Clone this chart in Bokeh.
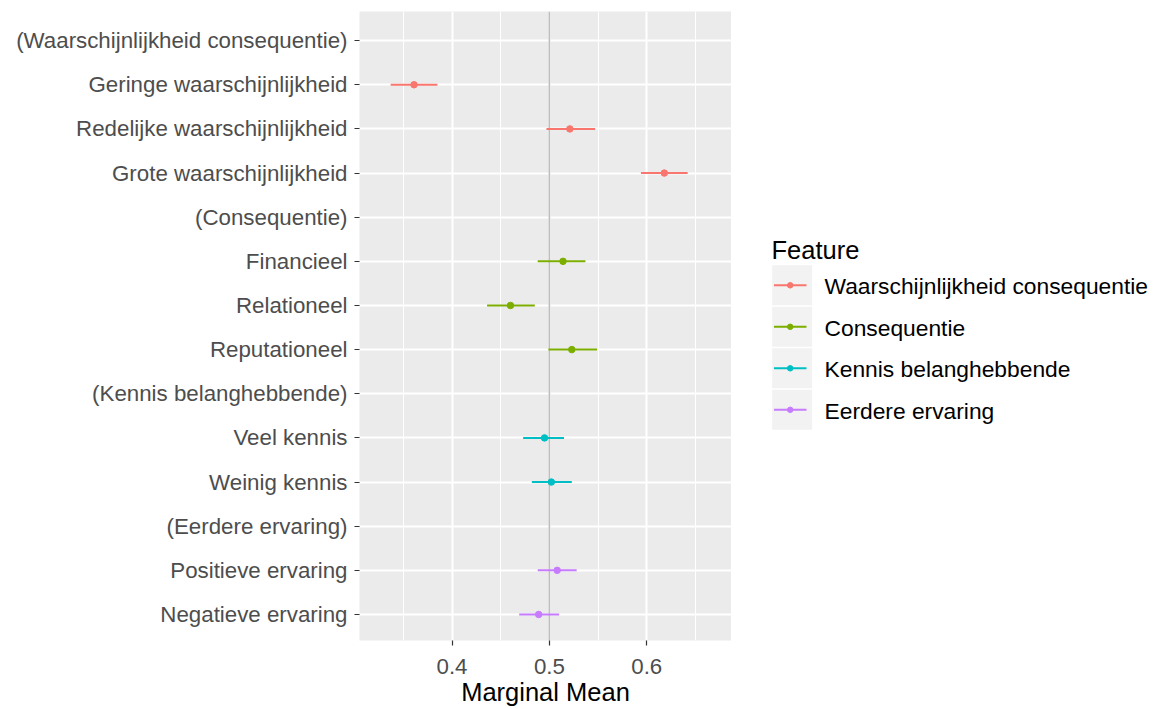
import math
from bokeh.plotting import figure
from bokeh.models import ColumnDataSource, Range1d, FixedTicker, Span
from bokeh.layouts import row
from bokeh.embed import file_html
from bokeh.resources import INLINE
from bokeh.core.properties import value

# ---------------- data ----------------
levels = [
    "(Waarschijnlijkheid consequentie)",
    "Geringe waarschijnlijkheid",
    "Redelijke waarschijnlijkheid",
    "Grote waarschijnlijkheid",
    "(Consequentie)",
    "Financieel",
    "Relationeel",
    "Reputationeel",
    "(Kennis belanghebbende)",
    "Veel kennis",
    "Weinig kennis",
    "(Eerdere ervaring)",
    "Positieve ervaring",
    "Negatieve ervaring",
]
level_feature = [
    "Waarschijnlijkheid consequentie", "Waarschijnlijkheid consequentie",
    "Waarschijnlijkheid consequentie", "Waarschijnlijkheid consequentie",
    "Consequentie", "Consequentie", "Consequentie", "Consequentie",
    "Kennis belanghebbende", "Kennis belanghebbende", "Kennis belanghebbende",
    "Eerdere ervaring", "Eerdere ervaring", "Eerdere ervaring",
]
nan = float("nan")
estimate = [nan, 0.361, 0.521, 0.618, nan, 0.514, 0.460, 0.523, nan, 0.495, 0.502, nan, 0.508, 0.489]
lower    = [nan, 0.337, 0.497, 0.594, nan, 0.488, 0.436, 0.499, nan, 0.473, 0.482, nan, 0.488, 0.469]
upper    = [nan, 0.385, 0.547, 0.642, nan, 0.537, 0.485, 0.549, nan, 0.515, 0.523, nan, 0.528, 0.510]

features = ["Waarschijnlijkheid consequentie", "Consequentie", "Kennis belanghebbende", "Eerdere ervaring"]
feature_colors = ["#F8766D", "#7CAE00", "#00BFC4", "#C77CFF"]

x_ticks = [0.4, 0.5, 0.6]
x_minor_ticks = [0.35, 0.45, 0.55, 0.65]
reference_value = 0.5
x_title = "Marginal Mean"
legend_title = "Feature"

# ---------------- build ----------------
n = len(levels)
ypos = [n - i for i in range(n)]
color_of = dict(zip(features, feature_colors))

rows = [i for i in range(n) if not math.isnan(estimate[i])]
src = ColumnDataSource(dict(
    y=[ypos[i] for i in rows],
    est=[estimate[i] for i in rows],
    lo=[lower[i] for i in rows],
    hi=[upper[i] for i in rows],
    color=[color_of[level_feature[i]] for i in rows],
))

FONT = "Liberation Sans"
TOP, BOTTOM = 11, 69
H = 709

p = figure(width=731, height=H,
           x_range=Range1d(0.305, 0.687), y_range=Range1d(0.41, 14.66),
           output_backend="svg", toolbar_location=None,
           min_border_left=359, min_border_right=0, min_border_top=TOP, min_border_bottom=BOTTOM)
p.background_fill_color = "#EBEBEB"
p.border_fill_color = "white"
p.outline_line_color = None

p.xaxis.ticker = FixedTicker(ticks=x_ticks, minor_ticks=x_minor_ticks)
p.yaxis.ticker = FixedTicker(ticks=ypos)
p.yaxis.major_label_overrides = {ypos[i]: levels[i] for i in range(n)}

for ax in (p.xaxis, p.yaxis):
    ax.axis_line_color = None
    ax.major_tick_line_color = "#333333"
    ax.major_tick_line_width = 1.2
    ax.major_tick_out = 5
    ax.major_tick_in = 0
    ax.minor_tick_line_color = None
    ax.major_label_text_font = FONT
    ax.major_label_text_font_size = "22.3px"
    ax.major_label_text_color = "#4D4D4D"
p.xaxis.major_label_standoff = 13
p.yaxis.major_label_standoff = 7
p.xaxis.axis_label = x_title
p.xaxis.axis_label_text_font = FONT
p.xaxis.axis_label_text_font_size = "25.5px"
p.xaxis.axis_label_text_font_style = "normal"
p.xaxis.axis_label_text_color = "black"
p.xaxis.axis_label_standoff = 1

p.xgrid.grid_line_color = "white"
p.xgrid.grid_line_width = 2
p.xgrid.minor_grid_line_color = "white"
p.xgrid.minor_grid_line_width = 1.1
p.ygrid.grid_line_color = "white"
p.ygrid.grid_line_width = 2

p.add_layout(Span(location=reference_value, dimension="height", line_color="#BEBEBE",
                  line_width=1.6, level="underlay"))

p.segment(x0="lo", y0="y", x1="hi", y1="y", line_color="color", line_width=2, source=src)
p.scatter(x="est", y="y", size=6.5, fill_color="color", line_color="color", source=src)

# ---------------- legend panel (frame aligned with main frame: page y 11..640) ----------------
leg = figure(width=424, height=H, x_range=Range1d(731, 1155), y_range=Range1d(H - BOTTOM, TOP),
             output_backend="svg", toolbar_location=None,
             x_axis_location=None, y_axis_location=None,
             min_border_left=0, min_border_right=0, min_border_top=TOP, min_border_bottom=BOTTOM)
leg.outline_line_color = None
leg.background_fill_color = "white"
leg.border_fill_color = "white"
leg.grid.visible = False

pitch = 41.5
centers = [284.8 + k * pitch for k in range(len(features))]
lsrc = ColumnDataSource(dict(y=centers, ty=[c + 1 for c in centers], label=features, color=feature_colors))
leg.rect(x=791.7, y="y", width=40, height=40, fill_color="#F2F2F2", line_color=None, source=lsrc)
leg.segment(x0=773.5, y0="y", x1=806, y1="y", line_color="color", line_width=2, source=lsrc)
leg.scatter(x=789.7, y="y", size=5.5, fill_color="color", line_color="color", source=lsrc)
leg.text(x=824, y="ty", text="label", text_font=value(FONT), text_font_size="22.8px",
         text_baseline="middle", text_align="left", text_color="black", source=lsrc)
leg.text(x=[771], y=[249], text=[legend_title], text_font=value(FONT), text_font_size="25.5px",
         text_baseline="alphabetic", text_align="left", text_color="black")

layout = row(p, leg)
open("out.html", "w").write(file_html(layout, INLINE))
